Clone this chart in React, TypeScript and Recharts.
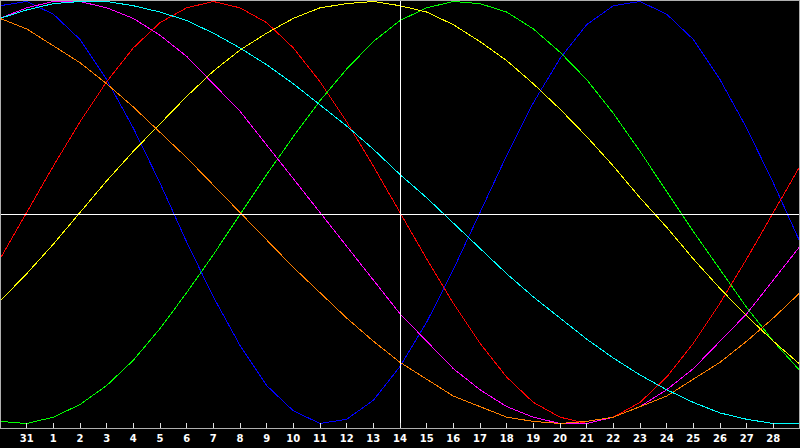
import { LineChart, Line, XAxis, YAxis, ReferenceLine } from "recharts"

// day labels for each plotted index (0..30)
const dayLabels = [
  "30", "31", "1", "2", "3", "4", "5", "6", "7", "8", "9", "10", "11", "12", "13", "14",
  "15", "16", "17", "18", "19", "20", "21", "22", "23", "24", "25", "26", "27", "28", "29",
]
const tickIndexes = [1, 2, 3, 4, 5, 6, 7, 8, 9, 10, 11, 12, 13, 14, 15, 16, 17, 18, 19, 20, 21, 22, 23, 24, 25, 26, 27, 28, 29]
const todayIndex = 15

// cycle values in percent, one per day
const physical = [98, 100, 94, 82, 63, 40, 14, -14, -40, -63, -82, -94, -100, -98, -89, -73, -52, -27, 0, 27, 52, 73, 89, 98, 100, 94, 82, 63, 40, 14, -14]
const emotional = [-22, 0, 22, 43, 62, 78, 90, 97, 100, 97, 90, 78, 62, 43, 22, 0, -22, -43, -62, -78, -90, -97, -100, -97, -90, -78, -62, -43, -22, 0, 22]
const intellectual = [-99, -100, -97, -91, -82, -70, -55, -38, -20, -1, 18, 36, 53, 68, 81, 91, 97, 100, 99, 95, 87, 76, 63, 47, 29, 10, -9, -27, -45, -61, -75]
const intuitive = [92, 97, 100, 100, 97, 92, 84, 74, 61, 48, 32, 16, 0, -16, -32, -48, -61, -74, -84, -92, -97, -100, -100, -97, -92, -84, -74, -61, -48, -32, -16]
const aesthetic = [-42, -29, -15, 0, 15, 29, 42, 55, 67, 77, 85, 92, 97, 99, 100, 98, 95, 89, 81, 72, 61, 49, 36, 22, 7, -7, -22, -36, -49, -61, -72]
const awareness = [92, 87, 79, 71, 61, 50, 38, 26, 13, 0, -13, -26, -38, -50, -61, -71, -79, -87, -92, -97, -99, -100, -99, -97, -92, -87, -79, -71, -61, -50, -38]
const spiritual = [92, 96, 99, 100, 100, 98, 95, 91, 85, 78, 70, 61, 51, 41, 30, 18, 7, -5, -17, -29, -40, -50, -60, -69, -77, -84, -90, -95, -98, -100, -100]

const data = dayLabels.map((day, i) => ({
  i,
  day,
  physical: physical[i],
  emotional: emotional[i],
  intellectual: intellectual[i],
  intuitive: intuitive[i],
  aesthetic: aesthetic[i],
  awareness: awareness[i],
  spiritual: spiritual[i],
}))

const series = [
  { key: "physical", color: "#0000ff" },
  { key: "emotional", color: "#ff0000" },
  { key: "intellectual", color: "#00ff00" },
  { key: "intuitive", color: "#ff00ff" },
  { key: "aesthetic", color: "#ffff00" },
  { key: "awareness", color: "#ff8000" },
  { key: "spiritual", color: "#00ffff" },
]

const DayTick = (props: any) => {
  const { x, y, payload } = props
  return (
    <g>
      <line x1={x} x2={x} y1={y - 5} y2={y} stroke="#e0e0e0" />
      <text
        x={x}
        y={y + 14}
        textAnchor="middle"
        fill="#ffffff"
        fontSize={10}
        fontWeight="bold"
        fontFamily="DejaVu Sans"
      >
        {dayLabels[payload.value]}
      </text>
    </g>
  )
}

export default function App() {
  return (
    <div style={{ position: "fixed", left: 0, top: 0, width: 800, height: 448, background: "#000" }}>
      <style>{"svg line, svg path { shape-rendering: crispEdges; }"}</style>
      <LineChart width={800} height={448} data={data} margin={{ top: 0, right: 0, left: 0, bottom: 0 }}>
        <XAxis
          dataKey="i"
          type="number"
          domain={[0, 30]}
          ticks={tickIndexes}
          interval={0}
          height={20}
          tickSize={0}
          tickMargin={0}
          tickLine={false}
          axisLine={{ stroke: "#b0b0b0" }}
          tick={<DayTick />}
        />
        <YAxis hide domain={[-102.13, 100.71]} />
        {series.map((s) => (
          <Line
            key={s.key}
            type="linear"
            dataKey={s.key}
            stroke={s.color}
            strokeWidth={1}
            dot={false}
            activeDot={false}
            isAnimationActive={false}
          />
        ))}
        <ReferenceLine y={-1} stroke="#ffffff" />
        <ReferenceLine x={todayIndex} stroke="#ffffff" />
      </LineChart>
      <div
        style={{
          position: "absolute",
          left: 0,
          top: 0,
          width: 798,
          height: 428,
          borderTop: "1px solid #b0b0b0",
          borderLeft: "1px solid #b0b0b0",
          borderRight: "1px solid #b0b0b0",
          pointerEvents: "none",
        }}
      />
    </div>
  )
}
